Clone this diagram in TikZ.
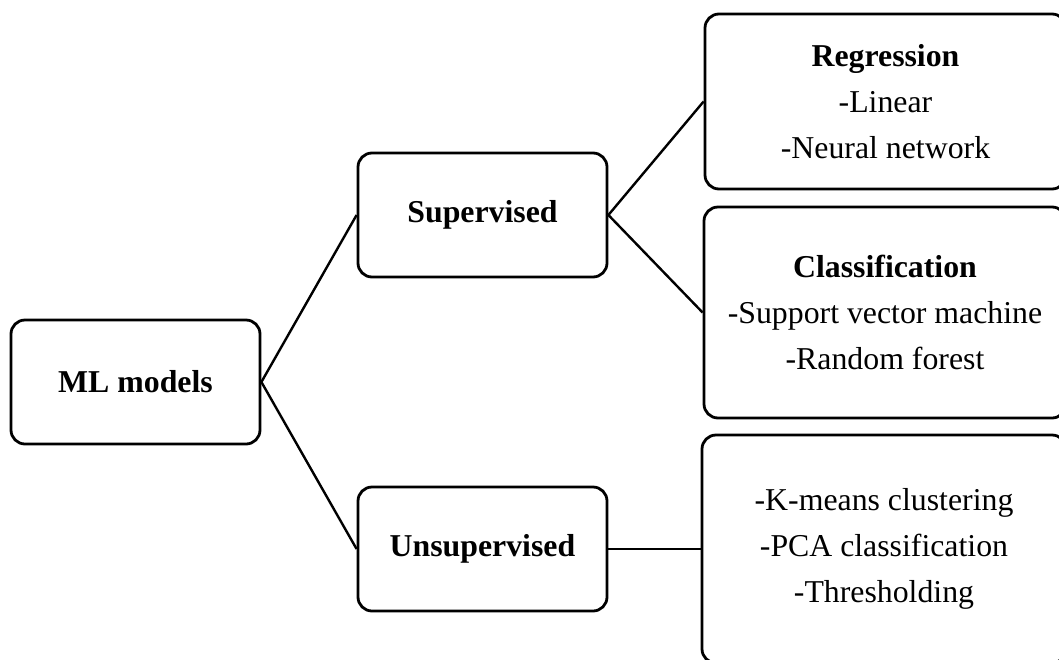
\documentclass[tikz,border=0pt]{standalone}
\usepackage{fontspec}
\setmainfont{Liberation Serif}
\begin{document}
\begin{tikzpicture}[x=0.5pt,y=-0.5pt,
  box/.style={draw=black, line width=1.4pt, rounded corners=7pt, align=center, inner sep=0pt,
    font=\fontsize{15.9pt}{23pt}\selectfont},
  conn/.style={draw=black, line width=1.2pt}]
\clip (0,0) rectangle (1059,659);
\node[box, minimum width=124.5pt, minimum height=62pt] (ml) at (135.5,382) {\textbf{ML models}};
\node[box, minimum width=124.5pt, minimum height=62pt] (sup) at (482.5,215) {\textbf{Supervised}};
\node[box, minimum width=124.5pt, minimum height=62pt] (unsup) at (482.5,549) {\textbf{Unsupervised}};
\node[box, minimum width=180.5pt, minimum height=87.5pt] (reg) at (885.5,101.5) {\textbf{Regression}\\-Linear\\-Neural network};
\node[box, minimum width=181pt, minimum height=105.5pt] (cls) at (885,312.5) {\textbf{Classification}\\-Support vector machine\\-Random forest};
\node[box, minimum width=182pt, minimum height=114pt] (uns) at (884,549) {-K-means clustering\\-PCA classification\\-Thresholding};
\draw[conn] (ml.east) -- (sup.west);
\draw[conn] (ml.east) -- (unsup.west);
\draw[conn] (sup.east) -- (reg.west);
\draw[conn] (sup.east) -- (cls.west);
\draw[conn] (unsup.east) -- (uns.west);
\end{tikzpicture}
\end{document}
